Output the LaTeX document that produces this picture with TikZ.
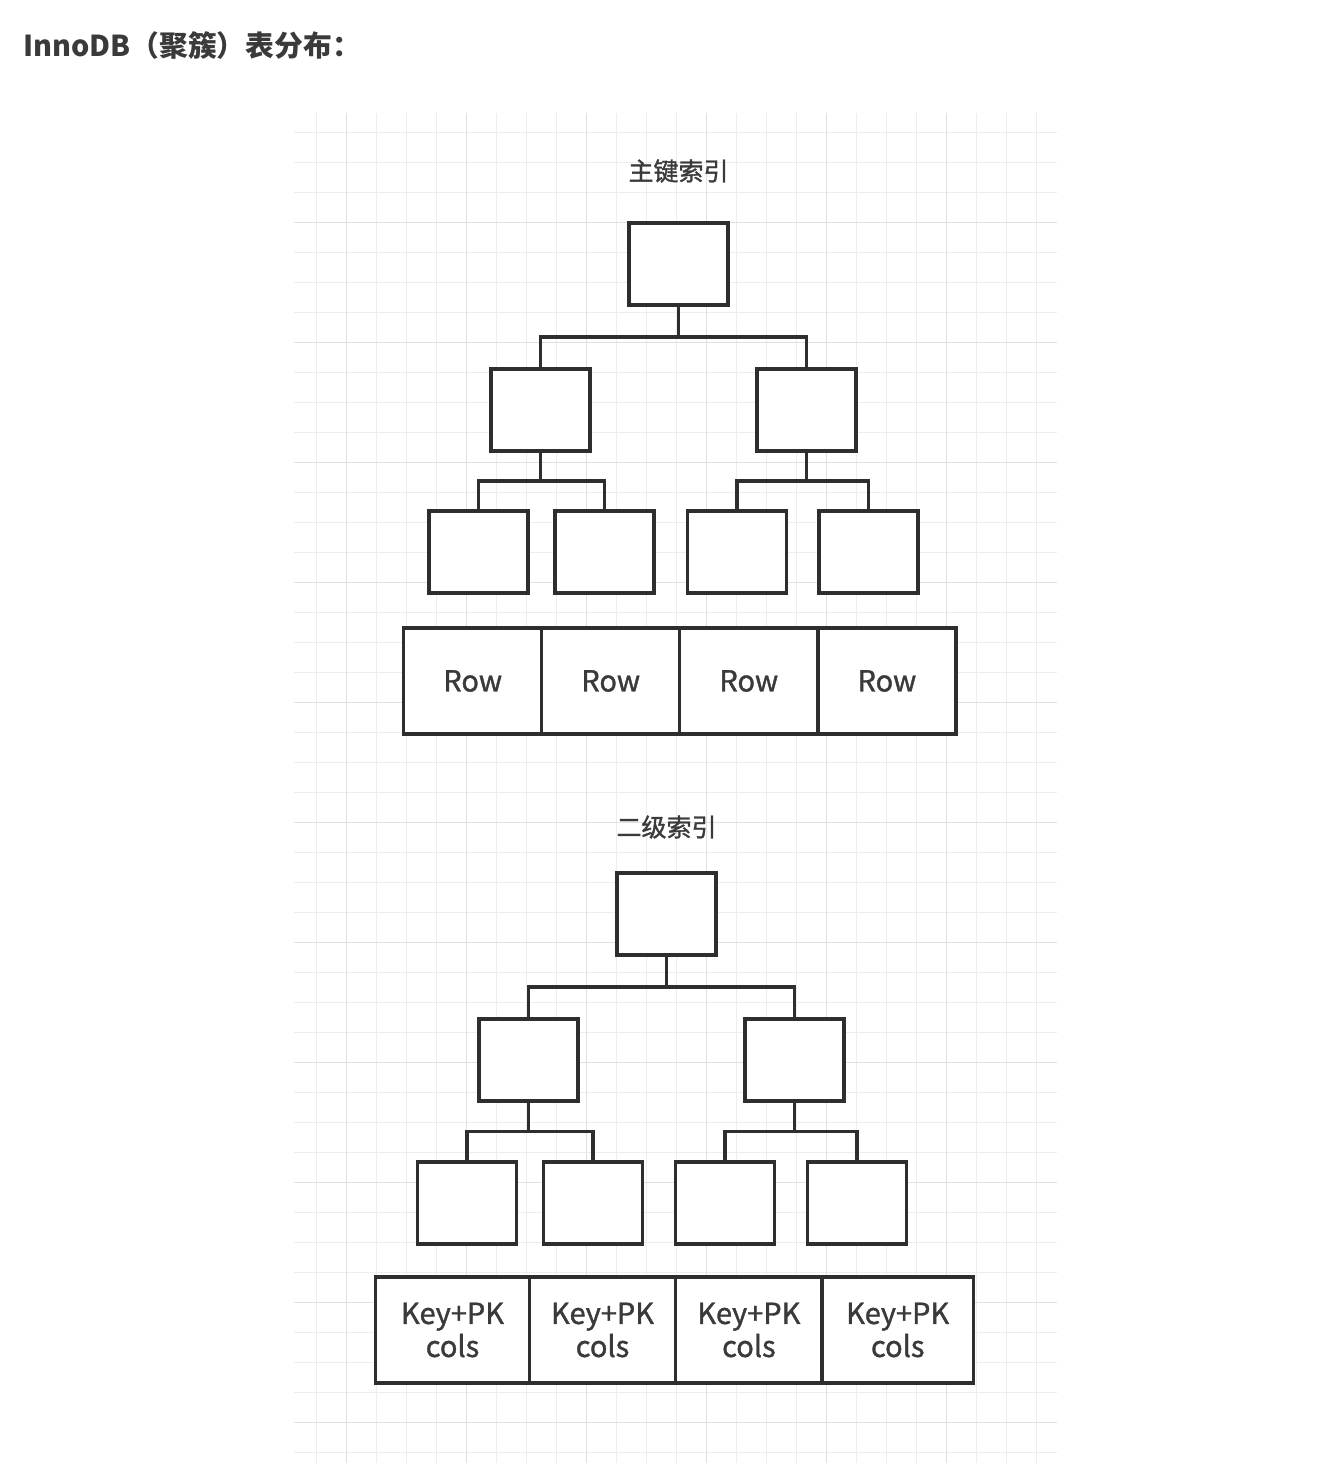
\documentclass[tikz,border=0pt]{standalone}
\usepackage{fontspec}
\setmainfont{Noto Sans CJK SC}
\newfontfamily\labelfont[FakeBold=1.2]{Noto Sans CJK SC}
\usetikzlibrary{calc, positioning}

\definecolor{cLine}{HTML}{2E2E2E}
\definecolor{cText}{HTML}{3A3A3A}
\definecolor{cGridMinor}{HTML}{EDEDED}
\definecolor{cGridMajor}{HTML}{E0E0E0}

\tikzset{
    pagebox/.style={draw=cLine, line width=3.3pt, fill=white, minimum width=99pt, minimum height=82pt, inner sep=0pt},
    rowcell/.style={draw=cLine, line width=3.3pt, fill=white, minimum height=106pt, inner sep=0pt, align=center, text=cText, font=\labelfont\fontsize{29}{33}\selectfont},
    link/.style={draw=cLine, line width=3.3pt},
    idxtitle/.style={text=cText, font=\labelfont\fontsize{25}{30}\selectfont, inner sep=0pt},
    gridminor/.style={draw=cGridMinor, line width=1.5pt},
    gridmajor/.style={draw=cGridMajor, line width=1.5pt}
}

\begin{document}
\begin{tikzpicture}[x=1pt, y=-1pt]
    \useasboundingbox (0,0) rectangle (1336,1482);

    % 背景网格 grid
    \foreach \i in {0,...,24}
        \draw[gridminor] ({316.7+30*\i},113) -- ({316.7+30*\i},1463);
    \foreach \j in {0,...,44}
        \draw[gridminor] (294,{132.7+30*\j}) -- (1057,{132.7+30*\j});
    \foreach \i in {0,...,5}
        \draw[gridmajor] ({346.7+120*\i},113) -- ({346.7+120*\i},1463);
    \foreach \j in {0,...,10}
        \draw[gridmajor] (294,{222.7+120*\j}) -- (1057,{222.7+120*\j});

    \node[anchor=base west, text=cText, font=\bfseries\fontsize{28.8}{34}\selectfont, inner sep=0pt] (tTitle) at (23,57) {InnoDB（聚簇）表分布：};

    % 主键索引 primary index
    \node[idxtitle] (tPrimary) at (678.5,171) {主键索引};
    \foreach \v/\x/\y in
    {pR/678.5/264,
     pA/540.5/410, pB/806.5/410,
     pA1/478.5/552, pA2/604.5/552, pB1/737/552, pB2/868.5/552
    }
    {
        \node[pagebox] (\v) at (\x,\y) {};
    };
    \foreach \p/\c in {pR/pA, pR/pB, pA/pA1, pA/pA2, pB/pB1, pB/pB2}
        \draw[link] (\p.south) |- ($(\p.south)!.5!(\c.north)$) -| (\c.north);

    \foreach \v/\x in {pRow1/472.7, pRow2/610.7, pRow3/748.8, pRow4/886.9}
        \node[rowcell, minimum width=138pt] (\v) at (\x,681) {Row};

    % 二级索引 secondary index
    \node[idxtitle] (tSecondary) at (666.5,827) {二级索引};
    \foreach \v/\x/\y in
    {sR/666.5/914,
     sA/528.5/1060, sB/794.5/1060,
     sA1/467/1203, sA2/593/1203, sB1/725/1203, sB2/857/1203
    }
    {
        \node[pagebox] (\v) at (\x,\y) {};
    };
    \foreach \p/\c in {sR/sA, sR/sB, sA/sA1, sA/sA2, sB/sB1, sB/sB2}
        \draw[link] (\p.south) |- ($(\p.south)!.5!(\c.north)$) -| (\c.north);

    \foreach \v/\x/\w in {sRow1/452.5/153.6, sRow2/602.5/146.5, sRow3/748.9/146.2, sRow4/897.7/151.3}
        \node[rowcell, minimum width=\w pt] (\v) at (\x,1330) {Key+PK\\cols};

\end{tikzpicture}
\end{document}
